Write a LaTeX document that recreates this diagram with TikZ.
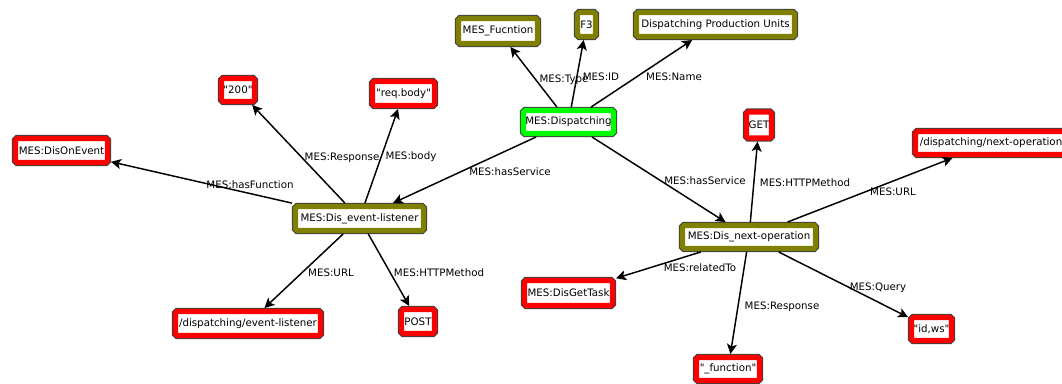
\documentclass[tikz,border=0pt]{standalone}
\usepackage{fontspec}
\setmainfont{DejaVu Sans}[Ligatures=TeXOff]
\usetikzlibrary{arrows.meta}

\definecolor{boxolive}{HTML}{808000}
\definecolor{boxred}{HTML}{FF0000}
\definecolor{boxgreen}{HTML}{00FF00}
\definecolor{rimgray}{HTML}{404040}

\tikzset{
  % framed resource box: coloured frame with a thin dark rim, white inside
  res/.style={
    fill=white, draw=#1, line width=3.9pt, rounded corners=1.3pt,
    preaction={draw=rimgray, line width=5.4pt},
    inner sep=0pt, outer sep=2.6pt, align=center,
    font=\fontsize{7.7}{9}\selectfont
  },
  olivebox/.style={res=boxolive},
  redbox/.style={res=boxred},
  greenbox/.style={res=boxgreen},
  sz/.style 2 args={minimum width=#1*0.75pt, minimum height=#2*0.75pt},
  rel/.style={draw=black, line width=1.1pt,
    -{Stealth[length=7.5pt, width=7.5pt, inset=1.8pt]}},
  lbl/.style={inner sep=0pt, font=\fontsize{7.7}{9}\selectfont}
}

\begin{document}
\begin{tikzpicture}[x=0.75pt, y=-0.75pt]
  \useasboundingbox (0,0) rectangle (1062,383);
  \clip (0,0) rectangle (1062,383);

  % resources
  \node[olivebox, sz={79}{25}]  (fn)    at (498,31)     {MES\_Fucntion};
  \node[olivebox, sz={18}{24}]  (f3)    at (586.5,24.5) {F3};
  \node[olivebox, sz={158}{24}] (dpu)   at (715.5,24.5) {Dispatching Production Units};
  \node[greenbox, sz={90}{23}]  (disp)  at (568.5,122)  {MES:Dispatching};
  \node[redbox,   sz={25}{26}]  (get)   at (759,125)    {GET};
  \node[redbox,   sz={33}{23}]  (r200)  at (238,90)     {"200"};
  \node[redbox,   sz={62}{24}]  (body)  at (403.5,93.5) {"req.body"};
  \node[redbox,   sz={92}{24}]  (onev)  at (61.5,150.5) {MES:DisOnEvent};
  \node[olivebox, sz={128}{24}] (evl)   at (359.5,218.5){MES:Dis\_event-listener};
  \node[redbox,   sz={145}{24}] (url1)  at (248,323.5)  {/dispatching/event-listener};
  \node[redbox,   sz={33}{24}]  (post)  at (418,321.5)  {POST};
  \node[redbox,   sz={151}{23}] (url2)  at (991,143)    {/dispatching/next-operation};
  \node[olivebox, sz={133}{23}] (nxt)   at (749,237)    {MES:Dis\_next-operation};
  \node[redbox,   sz={88}{25}]  (gtask) at (568.5,293)  {MES:DisGetTask};
  \node[redbox,   sz={63}{23}]  (func)  at (728,369)    {"\_function"};
  \node[redbox,   sz={40}{23}]  (idws)  at (931.5,329)  {"id,ws"};

  % properties
  \draw[rel] (disp) -- (fn);
  \draw[rel] (disp) -- (f3);
  \draw[rel] (disp) -- (dpu);
  \draw[rel] (disp) -- (evl);
  \draw[rel] (disp) -- (nxt);
  \draw[rel] (evl) -- (onev);
  \draw[rel] (evl) -- (r200);
  \draw[rel] (evl) -- (body);
  \draw[rel] (evl) -- (url1);
  \draw[rel] (evl) -- (post);
  \draw[rel] (nxt) -- (get);
  \draw[rel] (nxt) -- (url2);
  \draw[rel] (nxt) -- (gtask);
  \draw[rel] (nxt) -- (func);
  \draw[rel] (nxt) -- (idws);

  % property names
  \node[lbl] (lType)  at (564,80)  {MES:Type};
  \node[lbl] (lID)    at (601,77)  {MES:ID};
  \node[lbl] (lName)  at (674,77)  {MES:Name};
  \node[lbl] (lHasF)  at (250,185) {MES:hasFunction};
  \node[lbl] (lResp1) at (342,158) {MES:Response};
  \node[lbl] (lBody)  at (411,157) {MES:body};
  \node[lbl] (lServ1) at (510,172) {MES:hasService};
  \node[lbl] (lURL1)  at (331,273) {MES:URL};
  \node[lbl] (lHTTP1) at (439,273) {MES:HTTPMethod};
  \node[lbl] (lServ2) at (705,181) {MES:hasService};
  \node[lbl] (lHTTP2) at (805,183) {MES:HTTPMethod};
  \node[lbl] (lURL2)  at (893,192) {MES:URL};
  \node[lbl] (lRel)   at (700,268) {MES:relatedTo};
  \node[lbl] (lResp2) at (782,307) {MES:Response};
  \node[lbl] (lQuery) at (878,288) {MES:Query};
\end{tikzpicture}
\end{document}
